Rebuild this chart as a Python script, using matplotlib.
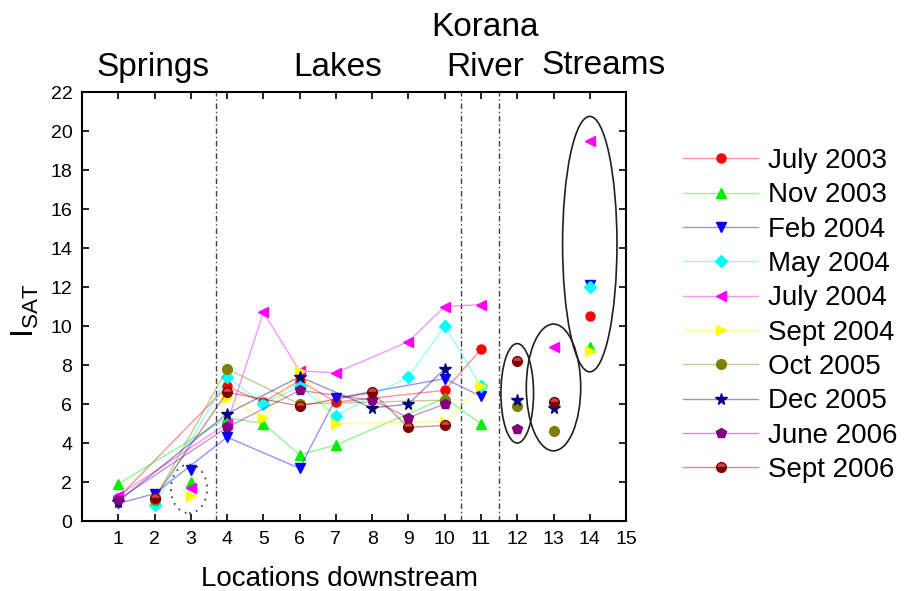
import matplotlib.pyplot as plt
import numpy as np
from matplotlib.patches import Ellipse
from matplotlib.colors import to_rgba

plt.rcParams['font.family'] = ['Liberation Sans', 'DejaVu Sans']
plt.rcParams['mathtext.fontset'] = 'custom'
plt.rcParams['mathtext.rm'] = 'Liberation Sans'

nan = np.nan

# locations downstream 1..14
locations = np.arange(1, 15)

series_names = ['July 2003', 'Nov 2003', 'Feb 2004', 'May 2004', 'July 2004',
                'Sept 2004', 'Oct 2005', 'Dec 2005', 'June 2006', 'Sept 2006']

#            1    2    3    4    5     6    7    8    9    10    11   12   13   14
july_2003 = [1.2, nan, nan, 6.9, 6.1,  7.2, 6.1, nan, nan, 6.7,  8.8, nan, 6.1, 10.5]
nov_2003  = [1.9, nan, 2.0, 5.3, 5.0,  3.4, 3.9, nan, nan, 6.3,  5.0, nan, nan, 8.9]
feb_2004  = [0.9, 1.4, 2.6, 4.3, nan,  2.7, 6.3, nan, nan, 7.3,  6.4, nan, nan, 12.1]
may_2004  = [nan, 0.8, nan, 7.4, 6.0,  6.9, 5.4, nan, 7.4, 10.0, 6.9, nan, nan, 12.0]
july_2004 = [1.3, nan, 1.7, 5.0, 10.7, 7.7, 7.6, nan, 9.2, 11.0, 11.1, nan, 8.9, 19.5]
sept_2004 = [nan, nan, 1.3, 6.3, 5.3,  7.7, 5.0, nan, nan, 5.1,  6.9, nan, nan, 8.7]
oct_2005  = [nan, 1.1, nan, 7.8, nan,  6.0, nan, nan, nan, 6.2,  nan, 5.9, 4.6, nan]
dec_2005  = [1.0, nan, nan, 5.5, nan,  7.4, nan, 5.8, 6.0, 7.8,  nan, 6.2, 5.8, nan]
june_2006 = [1.1, nan, nan, 4.8, nan,  6.7, nan, 6.2, 5.3, 6.0,  nan, 4.7, nan, nan]
sept_2006 = [nan, 1.2, nan, 6.6, nan,  5.9, nan, 6.6, 4.8, 4.9,  nan, 8.2, 6.1, nan]

all_series = [july_2003, nov_2003, feb_2004, may_2004, july_2004,
              sept_2004, oct_2005, dec_2005, june_2006, sept_2006]

# locations joined by lines; the rest are plotted as separate points
connected = [1, 2, 4, 5, 6, 7, 8, 9, 10, 11]

group_names = ['Springs', 'Lakes', 'Korana', 'River', 'Streams']
boundaries = [3.7, 10.45, 11.5]

marker_colors = ['#ff0000', '#00ee00', '#0000ff', '#00ffff', '#ff00ff',
                 '#ffff00', '#808000', '#000080', '#800080', '#800000']
markers = ['o', '^', 'v', 'D', '<', '>', 'o', '*', 'p', 'o']
marker_sizes = [6.5, 7.5, 7.5, 6, 7.5, 7.5, 7, 8.5, 7.5, 7]

fig = plt.figure(figsize=(9.06, 5.91), dpi=100)
ax = fig.add_axes([0.0905, 0.1184, 0.6005, 0.7259])

for name, vals, col, mk, ms in zip(series_names, all_series, marker_colors,
                                   markers, marker_sizes):
    y = np.array(vals, dtype=float)
    ok = ~np.isnan(y)
    joined = ok & np.isin(locations, connected)
    alone = ok & ~np.isin(locations, connected)
    line_col = to_rgba(col, 0.42)
    extra = {}
    if name == 'Sept 2006':
        extra = dict(fillstyle='bottom', markerfacecoloralt='#c84848')
    ax.plot(locations[joined], y[joined], color=line_col, lw=1.0,
            marker=mk, ms=ms, mfc=col, mec=col, label=name, zorder=3, **extra)
    ax.plot(locations[alone], y[alone], ls='none',
            marker=mk, ms=ms, mfc=col, mec=col, zorder=3, **extra)

# ellipses around grouped points
ellipse_locs = [3, 12, 13, 14]
ellipse_widths = [1.0, 0.9, 1.5, 1.5]
ellipse_pads = [1.2, 1.6, 2.2, 2.3]
for loc, w, pad in zip(ellipse_locs, ellipse_widths, ellipse_pads):
    col_vals = np.array([s[loc - 1] for s in all_series], dtype=float)
    col_vals = col_vals[~np.isnan(col_vals)]
    lo, hi = col_vals.min(), col_vals.max()
    if loc == 3:
        e = Ellipse((loc - 0.05, (lo + hi) / 2 - 0.3), w, hi - lo + pad,
                    fill=False, ec='#404060', lw=1.3, ls=(0, (1, 3)), zorder=4)
    else:
        e = Ellipse((loc, (lo + hi) / 2 + 0.1), w, hi - lo + pad,
                    fill=False, ec='#202020', lw=1.2, zorder=4)
    ax.add_patch(e)

for b in boundaries:
    ax.axvline(b, color='0.25', lw=1.0, ls=(0, (4, 2, 1, 2)), zorder=1)

ax.set_xlim(0, 15)
ax.set_ylim(0, 22)
ax.set_xticks(np.arange(1, 16))
ax.set_yticks(np.arange(0, 23, 2))
ax.tick_params(direction='in', length=5, width=1.2, labelsize=14,
               top=True, right=True, pad=7)
for sp in ax.spines.values():
    sp.set_linewidth(1.5)

ax.text(0.474, -0.152, 'Locations downstream', transform=ax.transAxes,
        ha='center', va='baseline', fontsize=20)
ax.set_ylabel(r'$\mathregular{I_{SAT}}$', fontsize=23)
ax.yaxis.set_label_coords(-0.075, 0.49)

# group labels above the frame
trans = ax.get_xaxis_transform()
group_x = [1.97, 7.05, 11.12, 11.12, 14.37]
group_y = [1.037, 1.037, 1.1305, 1.037, 1.041]
for name, gx, gy in zip(group_names, group_x, group_y):
    ax.text(gx, gy, name, transform=trans, ha='center', va='baseline',
            fontsize=24)

fig.legend(loc='center left', bbox_to_anchor=(683 / 906, 0.466),
           frameon=False, fontsize=20, handlelength=2.7, handletextpad=0.35,
           labelspacing=0.3, borderpad=0, borderaxespad=0)

fig.savefig('out.png', dpi=100)
